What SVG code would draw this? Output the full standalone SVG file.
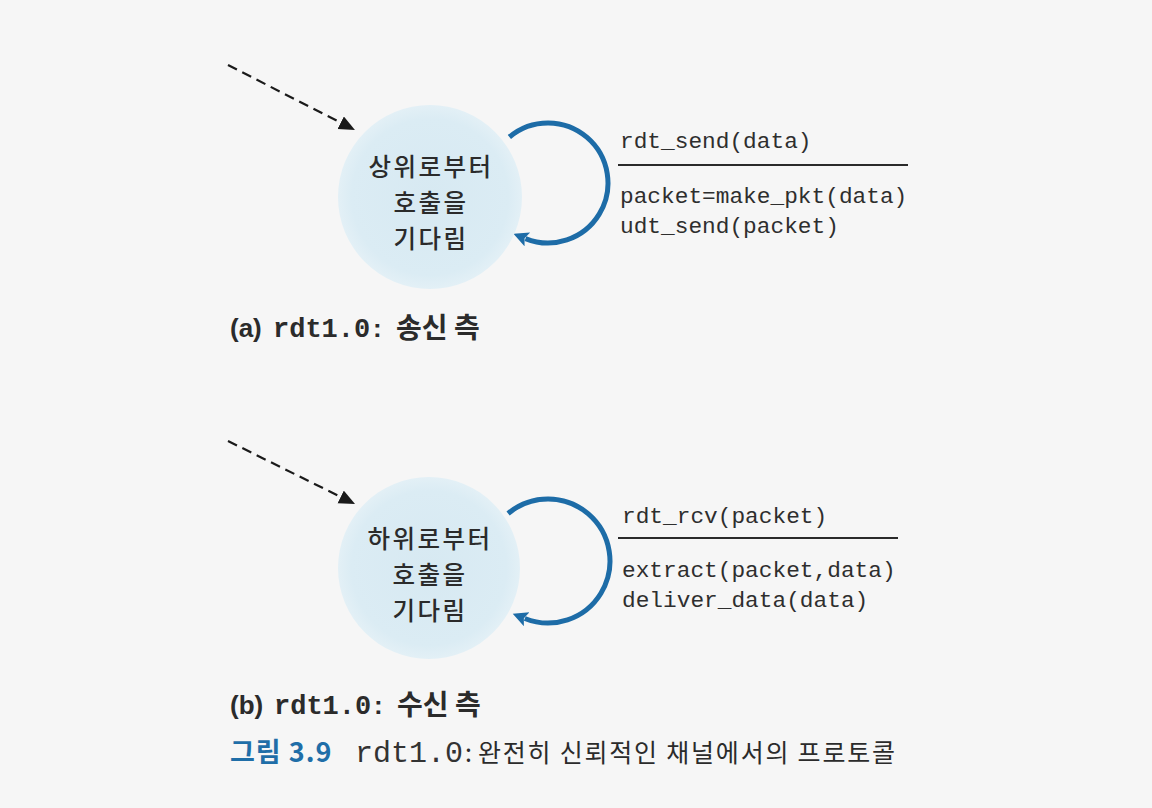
<svg xmlns="http://www.w3.org/2000/svg" width="1152" height="808" viewBox="0 0 1152 808">
<defs>
<radialGradient id="gState" cx="50%" cy="50%" r="50%">
<stop offset="0%" stop-color="#d7e9f2"/>
<stop offset="85%" stop-color="#dbecf4"/>
<stop offset="100%" stop-color="#e3f0f6"/>
</radialGradient>
<marker id="mDash" markerUnits="userSpaceOnUse" markerWidth="18" markerHeight="16" refX="0" refY="7" orient="auto">
<path d="M0,0 L16,7 L0,14 z" fill="#1a1a1a"/>
</marker>
<marker id="mLoop" markerUnits="userSpaceOnUse" markerWidth="18" markerHeight="18" refX="2" refY="7.5" orient="auto">
<path d="M0,0 L15,7.5 L0,15 L3,7.5 z" fill="#1d6ca7"/>
</marker>
</defs>
<style>
.bg{fill:#f6f6f6}
.state{fill:url(#gState)}
.stxt{font-family:"Noto Sans CJK KR",sans-serif;font-size:24.5px;font-weight:500;letter-spacing:2.5px;fill:#2b2b2b;text-anchor:middle}
.mono{font-family:"Liberation Mono","Courier New",monospace;font-size:22.8px;fill:#2e2e2e}
.rule{stroke:#2a2a2a;stroke-width:2}
.dash{stroke:#1a1a1a;stroke-width:2.2;stroke-dasharray:10 6;fill:none}
.loop{stroke:#1d6ca7;stroke-width:5;fill:none}
.cap{font-family:"Liberation Sans","Noto Sans CJK KR",sans-serif;font-size:26px;font-weight:bold;fill:#2b2b2b}
.capk{font-family:"Noto Sans CJK KR",sans-serif;font-size:28px;font-weight:bold;fill:#2b2b2b}
.capm{font-family:"Liberation Mono","Courier New",monospace;font-size:27px;font-weight:bold;fill:#2b2b2b}
.figb{font-family:"Noto Sans CJK KR",sans-serif;font-size:27px;font-weight:bold;letter-spacing:1px;fill:#1f6ea8}
.figm{font-family:"Liberation Mono","Courier New",monospace;font-size:30px;fill:#333}
.figk{font-family:"Noto Sans CJK KR",sans-serif;font-size:25px;fill:#2b2b2b}
</style>
<rect class="bg" x="0" y="0" width="1152" height="808"/>

<g id="connectors">
<line class="dash" x1="228" y1="65" x2="340.7" y2="122.7" marker-end="url(#mDash)"/>
<path class="loop" d="M509.4,137 A60,60 0 1 1 525.5,238.6" marker-end="url(#mLoop)"/>
<line class="dash" x1="228" y1="441" x2="340.7" y2="496.9" marker-end="url(#mDash)"/>
<path class="loop" d="M508.1,513.5 A62,62 0 1 1 524.8,618.5" marker-end="url(#mLoop)"/>
</g>

<g id="state-a">
<circle class="state" cx="430" cy="197" r="92"/>
<text class="stxt" x="431" y="176">상위로부터</text>
<text class="stxt" x="431" y="212">호출을</text>
<text class="stxt" x="431" y="248">기다림</text>
</g>

<g id="label-a">
<text class="mono" x="620" y="148">rdt_send(data)</text>
<line class="rule" x1="618" y1="165" x2="908" y2="165"/>
<text class="mono" x="620" y="203">packet=make_pkt(data)</text>
<text class="mono" x="620" y="233">udt_send(packet)</text>
</g>

<g id="state-b">
<circle class="state" cx="429" cy="568" r="91"/>
<text class="stxt" x="430" y="548">하위로부터</text>
<text class="stxt" x="430" y="584">호출을</text>
<text class="stxt" x="430" y="620">기다림</text>
</g>

<g id="label-b">
<text class="mono" x="622" y="523">rdt_rcv(packet)</text>
<line class="rule" x1="618" y1="538" x2="898" y2="538"/>
<text class="mono" x="622" y="577">extract(packet,data)</text>
<text class="mono" x="622" y="607">deliver_data(data)</text>
</g>

<g id="caption-a">
<text class="cap" x="230" y="337">(a)</text>
<text class="capm" x="273" y="337">rdt1.0</text>
<text class="cap" x="373" y="337">:</text>
<text class="capk" x="396" y="338">송신 측</text>
</g>

<g id="caption-b">
<text class="cap" x="230" y="714">(b)</text>
<text class="capm" x="274" y="714">rdt1.0</text>
<text class="cap" x="374" y="714">:</text>
<text class="capk" x="397" y="715">수신 측</text>
</g>

<g id="figure-caption">
<text class="figb" x="230" y="762">그림 3.9</text>
<text class="figm" x="355" y="762">rdt1.0</text>
<text class="figk" x="465" y="762">:</text>
<text class="figk" x="478" y="762" textLength="417" lengthAdjust="spacing">완전히 신뢰적인 채널에서의 프로토콜</text>
</g>
</svg>
